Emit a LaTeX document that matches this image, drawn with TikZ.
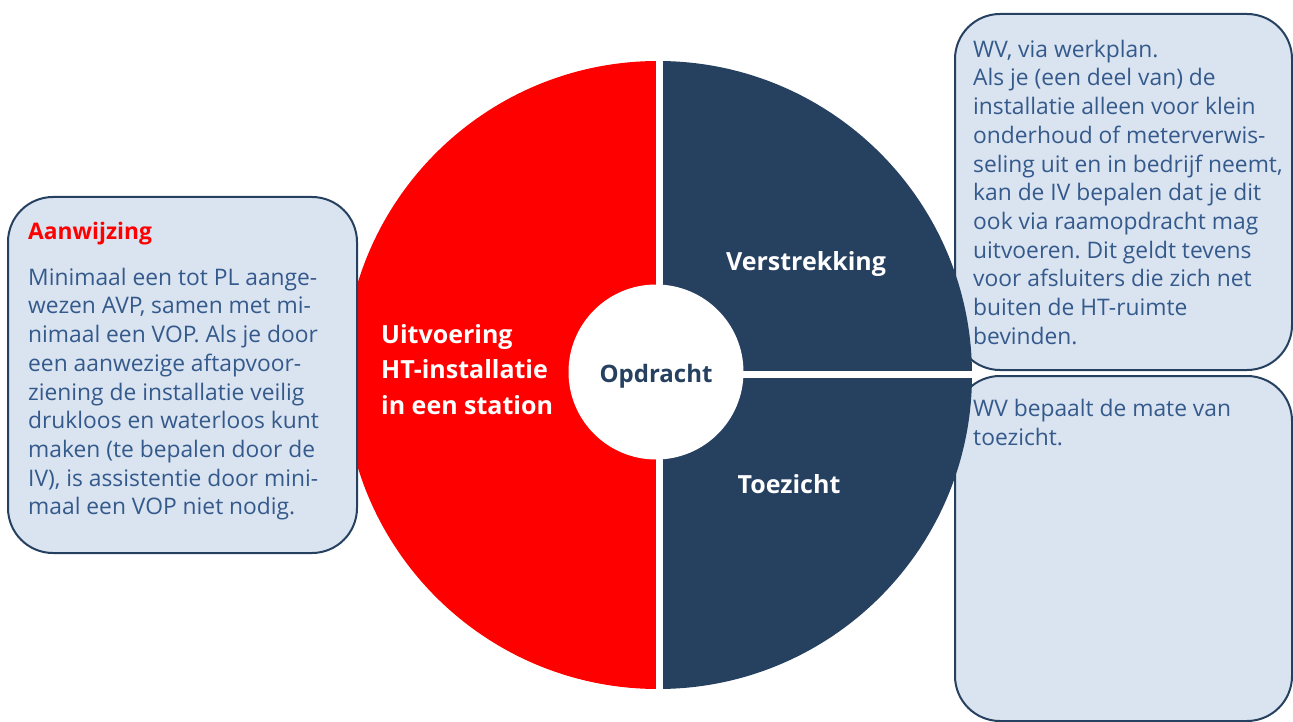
\documentclass[tikz,border=0pt]{standalone}
\usepackage{fontspec}
\setmainfont{Open Sans}
\usepackage{xcolor}
\definecolor{marine}{RGB}{38,64,96}
\definecolor{rood}{RGB}{255,0,0}
\definecolor{vlak}{RGB}{218,227,240}
\definecolor{tekstblauw}{RGB}{52,90,140}
\frenchspacing

\begin{document}
\begin{tikzpicture}[x=1pt,y=-1pt,
	kader/.style={draw=marine,line width=2pt,fill=vlak,rounded corners=45pt},
	tekst/.style={anchor=north west,align=left,inner sep=0pt,text=tekstblauw,font=\fontsize{22.8}{28.7}\selectfont},
	segtekst/.style={anchor=base,inner sep=0pt,text=white,font=\fontsize{25}{35.5}\selectfont\bfseries}]
	\useasboundingbox (0,0) rectangle (1293,722);
	\draw[kader] (955,14) rectangle (1292,370); % kader verstrekking
	\draw[kader] (955,376) rectangle (1292,721); % kader toezicht
	\fill[rood] (658,375) ++(0,-314) arc[start angle=-90,end angle=-270,radius=314] -- cycle;
	\fill[marine] (658,375) ++(0,-314) arc[start angle=-90,end angle=90,radius=314] -- cycle;
	\draw[white,line width=7pt] (659,55) -- (659,695); % spleet verticaal
	\draw[white,line width=7pt] (659,374.5) -- (973,374.5); % spleet horizontaal
	\node[circle,fill=white,minimum size=175pt,inner sep=0pt] (kern) at (656,372) {};
	\node[segtekst,text=marine,font=\fontsize{24}{28}\selectfont\bfseries] (opdracht) at (656,382) {Opdracht};
	\node[segtekst,anchor=north west,align=left] (uitvoering) at (381,324) {Uitvoering\\HT-installatie\\in een station};
	\node[segtekst] (verstrekking) at (806,270) {Verstrekking};
	\node[segtekst] (toezicht) at (789,493) {Toezicht};
	\draw[kader] (8,197) rectangle (357,553); % kader aanwijzing
	\node[tekst,anchor=base west,text=rood,font=\fontsize{22.8}{28.7}\selectfont\bfseries] (aanwijzing) at (28,240) {Aanwijzing};
	\node[tekst] (aanwijzingtekst) at (28,267.7) {Minimaal een tot PL aange-\\wezen AVP, samen met mi-\\nimaal een VOP. Als je door\\een aanwezige aftapvoor-\\ziening de installatie veilig\\drukloos en waterloos kunt\\maken (te bepalen door de\\IV), is assistentie door mini-\\maal een VOP niet nodig.};
	\node[tekst] (verstrekkingtekst) at (973,39.7) {WV, via werkplan.\\Als je (een deel van) de\\installatie alleen voor klein\\onderhoud of meterverwis-\\seling uit en in bedrijf neemt,\\kan de IV bepalen dat je dit\\ook via raamopdracht mag\\uitvoeren. Dit geldt tevens\\voor afsluiters die zich net\\buiten de HT-ruimte\\bevinden.};
	\node[tekst] (toezichttekst) at (973,399.4) {WV bepaalt de mate van\\toezicht.};
\end{tikzpicture}
\end{document}
